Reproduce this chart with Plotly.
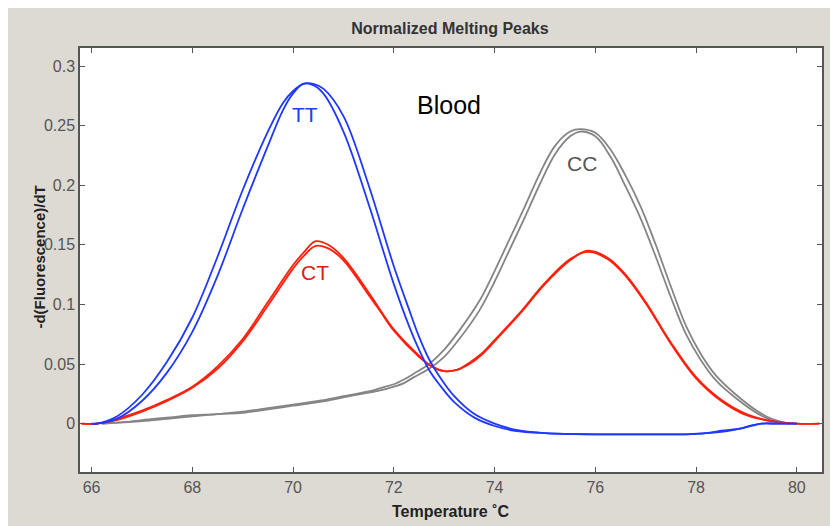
import plotly.graph_objects as go

# Temperature grids (deg C), one per genotype
temp_tt = [66.0, 66.1, 66.5, 67.0, 67.5, 68.0, 68.5, 69.0, 69.5, 69.8, 70.0, 70.2, 70.4, 70.6,
           71.0, 71.5, 72.0, 72.3, 72.5, 72.7, 72.9, 73.2, 73.6, 74.0, 74.4, 75.0, 76.0, 77.0,
           77.8, 78.2, 78.5, 78.9, 79.1, 79.3, 79.6, 80.0]
tt_rep1 = [0, 0, 0.006, 0.024, 0.052, 0.089, 0.140, 0.196, 0.245, 0.269, 0.279, 0.285, 0.285, 0.281,
           0.258, 0.200, 0.132, 0.096, 0.073, 0.054, 0.040, 0.023, 0.008, 0.000, -0.005, -0.008, -0.009, -0.009,
           -0.009, -0.008, -0.006, -0.004, -0.0015, 0, 0, 0]
tt_rep2 = [0, 0, 0.004, 0.019, 0.043, 0.077, 0.124, 0.180, 0.233, 0.263, 0.277, 0.285, 0.284, 0.277,
           0.245, 0.184, 0.117, 0.082, 0.062, 0.045, 0.033, 0.018, 0.005, -0.002, -0.006, -0.008, -0.009, -0.009,
           -0.009, -0.008, -0.007, -0.004, -0.002, 0, 0, 0]

temp_ct = [65.8, 66.1, 66.5, 67.0, 67.5, 68.0, 68.5, 69.0, 69.5, 70.0, 70.2, 70.45, 70.7, 71.0,
           71.5, 71.75, 72.0, 72.5, 72.75, 73.0, 73.25, 73.5, 73.75, 74.0, 74.5, 75.0, 75.5, 75.85,
           76.25, 76.6, 77.0, 77.5, 78.0, 78.5, 79.0, 79.5, 80.0, 80.45]
ct_rep1 = [0, 0, 0.004, 0.011, 0.020, 0.031, 0.048, 0.071, 0.102, 0.133, 0.143, 0.153, 0.150, 0.139,
           0.110, 0.094, 0.079, 0.057, 0.048, 0.044, 0.045, 0.050, 0.058, 0.069, 0.092, 0.117, 0.137, 0.145,
           0.139, 0.125, 0.102, 0.068, 0.039, 0.020, 0.008, 0.002, 0, 0]
ct_rep2 = [0, 0, 0.003, 0.010, 0.019, 0.030, 0.046, 0.069, 0.099, 0.130, 0.140, 0.149, 0.147, 0.137,
           0.108, 0.093, 0.078, 0.056, 0.048, 0.044, 0.045, 0.051, 0.059, 0.070, 0.093, 0.118, 0.138, 0.144,
           0.138, 0.124, 0.101, 0.067, 0.038, 0.019, 0.007, 0.002, 0, 0]

temp_cc = [66.2, 66.6, 67.0, 67.5, 68.0, 68.5, 69.0, 69.5, 70.0, 70.5, 71.0, 71.5, 71.75, 72.0,
           72.2, 72.4, 72.7, 73.0, 73.3, 73.7, 74.0, 74.3, 74.6, 74.9, 75.2, 75.5, 75.7, 76.0,
           76.3, 76.6, 76.9, 77.2, 77.5, 77.8, 78.1, 78.4, 78.8, 79.2, 79.5, 79.85]
cc_rep1 = [0, 0.001, 0.003, 0.005, 0.007, 0.008, 0.010, 0.013, 0.016, 0.019, 0.023, 0.027, 0.030, 0.033,
           0.037, 0.042, 0.050, 0.062, 0.078, 0.103, 0.128, 0.155, 0.182, 0.210, 0.233, 0.245, 0.247, 0.244,
           0.230, 0.208, 0.182, 0.150, 0.115, 0.082, 0.058, 0.040, 0.024, 0.011, 0.004, 0]
cc_rep2 = [0, 0.001, 0.002, 0.004, 0.006, 0.008, 0.009, 0.012, 0.015, 0.018, 0.022, 0.026, 0.028, 0.031,
           0.034, 0.039, 0.046, 0.056, 0.071, 0.095, 0.119, 0.146, 0.173, 0.201, 0.226, 0.241, 0.245, 0.241,
           0.224, 0.199, 0.172, 0.140, 0.106, 0.075, 0.053, 0.036, 0.021, 0.009, 0.003, 0]

x_ticks = [66, 68, 70, 72, 74, 76, 78, 80]
y_ticks = [0, 0.05, 0.1, 0.15, 0.2, 0.25, 0.3]
y_tick_text = ['0', '0.05', '0.1', '0.15', '0.2', '0.25', '0.3']

FONT = 'Liberation Sans, Arial, sans-serif'
BLUE = '#1f38ff'
RED = '#ff200c'
GRAY = '#858585'

fig = go.Figure()

# draw order: gray, red, blue on top
for temps, ys, col in [(temp_cc, cc_rep1, GRAY), (temp_cc, cc_rep2, GRAY),
                       (temp_ct, ct_rep1, RED), (temp_ct, ct_rep2, RED),
                       (temp_tt, tt_rep1, BLUE), (temp_tt, tt_rep2, BLUE)]:
    fig.add_trace(go.Scatter(x=temps, y=ys, mode='lines', line=dict(color=col, width=1.8, shape='spline', smoothing=1.0),
                             showlegend=False, hoverinfo='skip'))

labels = [('TT', 70.23, 0.259, '#2040e8', 21), ('CT', 70.43, 0.127, '#d8200e', 21),
          ('CC', 75.73, 0.218, '#555555', 21), ('Blood', 73.09, 0.267, '#000000', 25)]
for txt, lx, ly, col, size in labels:
    fig.add_annotation(x=lx, y=ly, text=txt, showarrow=False, font=dict(family=FONT, size=size, color=col))

# axis titles placed like the original figure
fig.add_annotation(xref='paper', yref='paper', x=0.5, y=-0.094, yanchor='middle', showarrow=False,
                   text='Temperature ˚C', font=dict(family=FONT, size=16, color='#222', weight='bold'))
fig.add_annotation(xref='paper', yref='paper', x=-0.07, y=0.507, textangle=-90, showarrow=False,
                   text='-d(Fluorescence)/dT', font=dict(family=FONT, size=15, color='#222', weight='bold'))

# grey window frame, white plot area
fig.add_shape(type='rect', xref='paper', yref='paper', x0=-0.2, x1=1.2, y0=-0.3, y1=1.3,
              fillcolor='#dddad4', line_width=0, layer='below')
fig.add_shape(type='rect', xref='paper', yref='paper', x0=0, x1=1, y0=0, y1=1,
              fillcolor='white', line_width=0, layer='below')

axis_style = dict(showline=True, linecolor='#555', linewidth=1.5, mirror='ticks', ticks='inside',
                  ticklen=5, tickcolor='#555', showgrid=False, zeroline=False,
                  tickfont=dict(family=FONT, size=16, color='#555'))

# the page body adds an 8px offset, so the figure is 8px smaller each way
fig.update_layout(
    width=830, height=518,
    margin=dict(l=72, r=16, t=40, b=54),
    paper_bgcolor='white', plot_bgcolor='white',
    title=dict(text='Normalized Melting Peaks', x=0.5325, xanchor='center', y=1 - 20 / 518, yanchor='middle',
               font=dict(family=FONT, size=16, color='#333', weight='bold')),
    xaxis=dict(range=[65.77, 80.5], tickvals=x_ticks, **axis_style),
    yaxis=dict(range=[-0.0406, 0.3151], tickvals=y_ticks, ticktext=y_tick_text, **axis_style),
)

fig.write_html('out.html')
